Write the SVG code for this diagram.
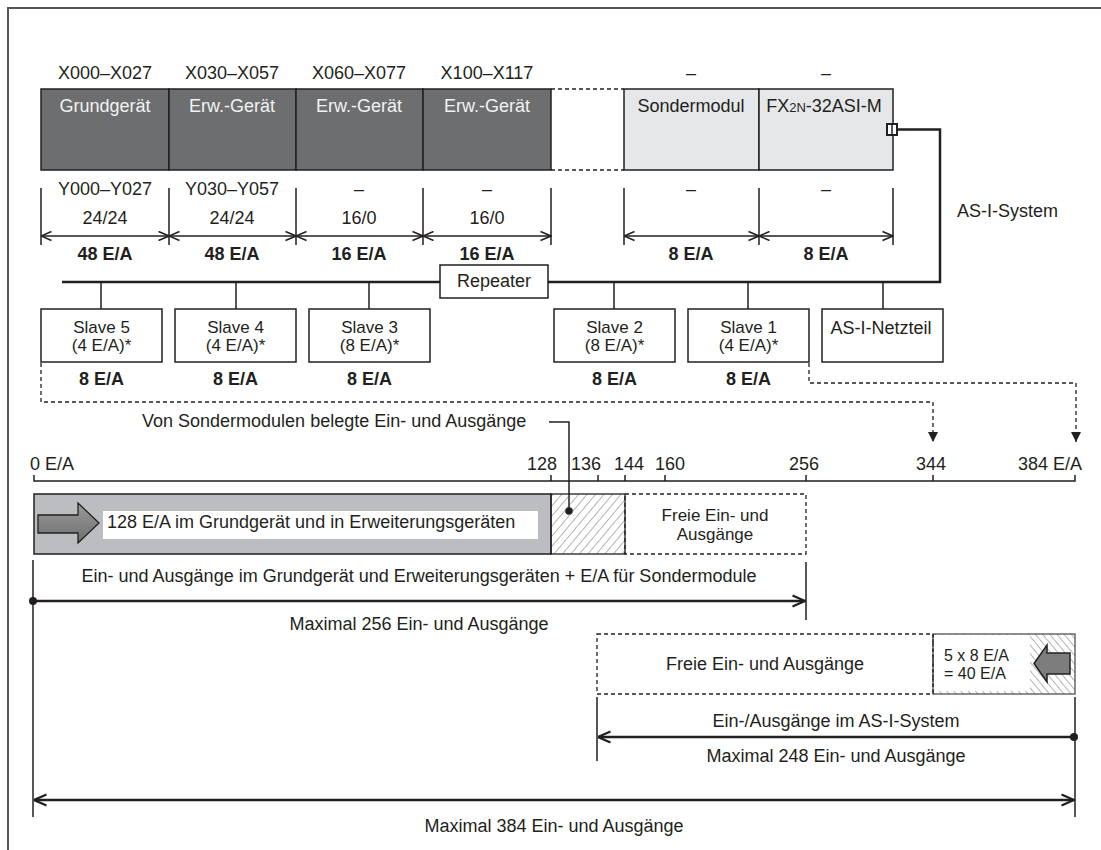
<svg xmlns="http://www.w3.org/2000/svg" width="1101" height="850" viewBox="0 0 1101 850">
<defs>
<style>
text{font-family:"Liberation Sans",Arial,Helvetica,sans-serif;font-size:18px;fill:#231f20}
.c{text-anchor:middle}
.b{font-weight:bold}
.w{fill:#f2f2f2}
.s{font-size:17px}
.ln{stroke:#231f20;fill:none}
.dim{stroke:#231f20;stroke-width:1.5;fill:none;marker-start:url(#oa);marker-end:url(#oa)}
.tick{stroke:#231f20;stroke-width:1.5}
.box{fill:#fff;stroke:#231f20;stroke-width:1.5}
.dark{fill:#6d6e70;stroke:#231f20;stroke-width:1.5}
.light{fill:#e6e7e8;stroke:#231f20;stroke-width:1.5}
.dash{stroke:#231f20;stroke-width:1.3;fill:none;stroke-dasharray:4 3}
</style>
<marker id="oa" viewBox="0 0 12 12" refX="11.5" refY="6" markerWidth="12" markerHeight="12" markerUnits="userSpaceOnUse" orient="auto-start-reverse">
<path d="M1,1.5 L11.5,6 L1,10.5" fill="none" stroke="#231f20" stroke-width="1.5"/>
</marker>
<marker id="ob" viewBox="0 0 14 14" refX="13.5" refY="7" markerWidth="14" markerHeight="14" markerUnits="userSpaceOnUse" orient="auto-start-reverse">
<path d="M1,1.5 L13.5,7 L1,12.5" fill="none" stroke="#231f20" stroke-width="2.2"/>
</marker>
<marker id="ft" viewBox="0 0 10 10" refX="10" refY="5" markerWidth="10" markerHeight="10" markerUnits="userSpaceOnUse" orient="auto">
<path d="M0,0 L10,5 L0,10 Z" fill="#231f20"/>
</marker>
<pattern id="h1" patternUnits="userSpaceOnUse" width="6.5" height="10" patternTransform="rotate(40)">
<line x1="0" y1="0" x2="0" y2="10" stroke="#555" stroke-width="0.9"/>
</pattern>
<pattern id="h2" patternUnits="userSpaceOnUse" width="5.5" height="10" patternTransform="rotate(-40)">
<line x1="0" y1="0" x2="0" y2="10" stroke="#555" stroke-width="0.9"/>
</pattern>
<linearGradient id="ag" x1="0" y1="0" x2="0" y2="1">
<stop offset="0" stop-color="#9a9a9a"/><stop offset="1" stop-color="#6f6f6f"/>
</linearGradient>
</defs>
<rect width="1101" height="850" fill="#fff"/>
<path d="M8,850 L8,8 L1101,8" fill="none" stroke="#555" stroke-width="2"/>

<g id="grundgeraet">
<text class="c" x="105" y="79">X000–X027</text>
<rect class="dark" x="41" y="89" width="128" height="81"/>
<text class="c w" x="105" y="112">Grundgerät</text>
<text class="c" x="105" y="195">Y000–Y027</text>
<text class="c" x="105" y="224">24/24</text>
<text class="c b" x="105" y="260">48 E/A</text>
</g>
<g id="erw1">
<text class="c" x="232" y="79">X030–X057</text>
<rect class="dark" x="169" y="89" width="127" height="81"/>
<text class="c w" x="232" y="112">Erw.-Gerät</text>
<text class="c" x="232" y="195">Y030–Y057</text>
<text class="c" x="232" y="224">24/24</text>
<text class="c b" x="232" y="260">48 E/A</text>
</g>
<g id="erw2">
<text class="c" x="359" y="79">X060–X077</text>
<rect class="dark" x="296" y="89" width="127" height="81"/>
<text class="c w" x="359" y="112">Erw.-Gerät</text>
<text class="c" x="359" y="195">–</text>
<text class="c" x="359" y="224">16/0</text>
<text class="c b" x="359" y="260">16 E/A</text>
</g>
<g id="erw3">
<text class="c" x="487" y="79">X100–X117</text>
<rect class="dark" x="423" y="89" width="128" height="81"/>
<text class="c w" x="487" y="112">Erw.-Gerät</text>
<text class="c" x="487" y="195">–</text>
<text class="c" x="487" y="224">16/0</text>
<text class="c b" x="487" y="260">16 E/A</text>
</g>
<g id="gap">
<path class="dash" d="M551,89 H624 M551,170 H624"/>
</g>
<g id="sondermodul">
<text class="c" x="691" y="79">–</text>
<rect class="light" x="624" y="89" width="135" height="81"/>
<text class="c" x="691" y="112">Sondermodul</text>
<text class="c" x="691" y="195">–</text>
<text class="c b" x="691" y="260">8 E/A</text>
</g>
<g id="fx2n">
<text class="c" x="826" y="79">–</text>
<rect class="light" x="759" y="89" width="134" height="81"/>
<text class="c" x="824" y="112">FX<tspan font-size="13">2N</tspan>-32ASI-M</text>
<rect x="887" y="124" width="10" height="11" fill="#fff" stroke="#231f20" stroke-width="2"/>
<line x1="892" y1="124" x2="892" y2="135" stroke="#231f20" stroke-width="1.5"/>
<text class="c" x="826" y="195">–</text>
<text class="c b" x="826" y="260">8 E/A</text>
</g>
<g id="as-i-label">
<text x="957" y="217">AS-I-System</text>
</g>

<g id="dimensions">
<path class="tick" d="M41,188 V245 M169,188 V245 M296,188 V245 M423,188 V245 M551,188 V245 M624,188 V245 M759,188 V245 M893,188 V245"/>
<line class="dim" x1="41" y1="236" x2="169" y2="236"/>
<line class="dim" x1="169" y1="236" x2="296" y2="236"/>
<line class="dim" x1="296" y1="236" x2="423" y2="236"/>
<line class="dim" x1="423" y1="236" x2="551" y2="236"/>
<line class="dim" x1="624" y1="236" x2="759" y2="236"/>
<line class="dim" x1="759" y1="236" x2="893" y2="236"/>
</g>

<g id="connectors">
<path class="ln" stroke-width="2.5" d="M897,129.5 H940 V282 H548"/>
<path class="ln" stroke-width="2.5" d="M440,282 H62"/>
<path class="ln" stroke-width="1.5" d="M101,282 V309 M236,282 V309 M369,282 V309 M614,282 V309 M748,282 V309 M883,282 V309"/>
<path class="dash" d="M41,363 V402 H933 V442" marker-end="url(#ft)"/>
<path class="dash" d="M809,363 V383 H1076 V442" marker-end="url(#ft)"/>
<path class="ln" stroke-width="1.5" d="M549,422 H569 V511"/>
<circle cx="569" cy="511" r="3.8" fill="#231f20"/>
</g>

<g id="repeater">
<rect class="box" x="440" y="265" width="108" height="33"/>
<text class="c" x="494" y="287">Repeater</text>
</g>

<g id="slave5">
<rect class="box" x="41" y="309" width="121" height="53"/>
<text class="c s" x="101.5" y="333">Slave 5</text>
<text class="c s" x="101.5" y="351">(4 E/A)*</text>
<text class="c b" x="101.5" y="385">8 E/A</text>
</g>
<g id="slave4">
<rect class="box" x="175" y="309" width="121" height="53"/>
<text class="c s" x="235.5" y="333">Slave 4</text>
<text class="c s" x="235.5" y="351">(4 E/A)*</text>
<text class="c b" x="235.5" y="385">8 E/A</text>
</g>
<g id="slave3">
<rect class="box" x="309" y="309" width="121" height="53"/>
<text class="c s" x="369.5" y="333">Slave 3</text>
<text class="c s" x="369.5" y="351">(8 E/A)*</text>
<text class="c b" x="369.5" y="385">8 E/A</text>
</g>
<g id="slave2">
<rect class="box" x="554" y="309" width="121" height="53"/>
<text class="c s" x="614.5" y="333">Slave 2</text>
<text class="c s" x="614.5" y="351">(8 E/A)*</text>
<text class="c b" x="614.5" y="385">8 E/A</text>
</g>
<g id="slave1">
<rect class="box" x="688" y="309" width="121" height="53"/>
<text class="c s" x="748.5" y="333">Slave 1</text>
<text class="c s" x="748.5" y="351">(4 E/A)*</text>
<text class="c b" x="748.5" y="385">8 E/A</text>
</g>
<g id="netzteil">
<rect class="box" x="822" y="309" width="121" height="53"/>
<text class="c" x="881" y="334">AS-I-Netzteil</text>
</g>

<g id="sonder-label">
<text x="142" y="427">Von Sondermodulen belegte Ein- und Ausgänge</text>
</g>

<g id="scale">
<text x="30" y="470">0 E/A</text>
<text class="c" x="542" y="470">128</text>
<text class="c" x="586" y="470">136</text>
<text class="c" x="629" y="470">144</text>
<text class="c" x="670" y="470">160</text>
<text class="c" x="804" y="470">256</text>
<text class="c" x="931" y="470">344</text>
<text x="1082" y="470" text-anchor="end">384 E/A</text>
<path class="ln" stroke-width="1.5" d="M34,475 V481 H1075 V475 M551,481 V475 M598,481 V475 M625,481 V475 M665,481 V475 M806,481 V475 M933,481 V475"/>
</g>

<g id="bar-basis">
<rect x="34" y="494" width="517" height="60" fill="#bcbdc0" stroke="#231f20" stroke-width="1.5"/>
<polygon points="38,515 78,515 78,503 99,523 78,543 78,533 38,533" fill="url(#ag)" stroke="#231f20" stroke-width="1.3"/>
<rect x="103" y="511" width="435" height="28" fill="#fff"/>
<text x="107" y="528">128 E/A im Grundgerät und in Erweiterungsgeräten</text>
</g>
<g id="bar-sonder">
<rect x="551" y="494" width="74" height="60" fill="url(#h1)" stroke="#231f20" stroke-width="1.3"/>
</g>
<g id="bar-frei">
<rect x="625" y="494" width="181" height="60" fill="#fff" class="dash"/>
<text class="c s" x="715" y="521">Freie Ein- und</text>
<text class="c s" x="715" y="540">Ausgänge</text>
</g>

<g id="range-256">
<path class="ln" stroke-width="1.5" d="M33,560 V817 M806,562 V620"/>
<text class="c" x="419" y="582">Ein- und Ausgänge im Grundgerät und Erweiterungsgeräten + E/A für Sondermodule</text>
<line x1="33" y1="601" x2="805" y2="601" stroke="#231f20" stroke-width="2.5" marker-end="url(#ob)"/>
<circle cx="33" cy="601" r="4" fill="#231f20"/>
<text class="c" x="419" y="630">Maximal 256 Ein- und Ausgänge</text>
</g>

<g id="bar-frei2">
<rect x="597" y="634" width="336" height="60" fill="#fff" class="dash"/>
<text class="c" x="765" y="670">Freie Ein- und Ausgänge</text>
</g>
<g id="bar-asi">
<rect x="933" y="634" width="142" height="60" fill="url(#h2)" stroke="#444" stroke-width="1.2"/>
<rect x="934" y="635" width="96" height="56" fill="#fff"/>
<line x1="933" y1="634" x2="933" y2="694" stroke="#231f20" stroke-width="1" stroke-dasharray="3 2"/>
<text x="944" y="661" style="font-size:16px">5 x 8 E/A</text>
<text x="944" y="679" style="font-size:16px">= 40 E/A</text>
<polygon points="1034,663.5 1047,645 1047,653 1070,653 1070,674 1047,674 1047,682" fill="#7d7d7d" stroke="#231f20" stroke-width="1.5"/>
</g>

<g id="range-248">
<path class="ln" stroke-width="1.5" d="M597,697 V761 M1075,697 V817"/>
<text class="c" x="836" y="727">Ein-/Ausgänge im AS-I-System</text>
<line x1="598" y1="737" x2="1074" y2="737" stroke="#231f20" stroke-width="2.5" marker-start="url(#ob)"/>
<circle cx="1074" cy="737" r="4" fill="#231f20"/>
<text class="c" x="836" y="762">Maximal 248 Ein- und Ausgänge</text>
</g>

<g id="range-384">
<line x1="34" y1="800" x2="1074" y2="800" stroke="#231f20" stroke-width="2.5" marker-start="url(#ob)" marker-end="url(#ob)"/>
<text class="c" x="554" y="832">Maximal 384 Ein- und Ausgänge</text>
</g>
</svg>
